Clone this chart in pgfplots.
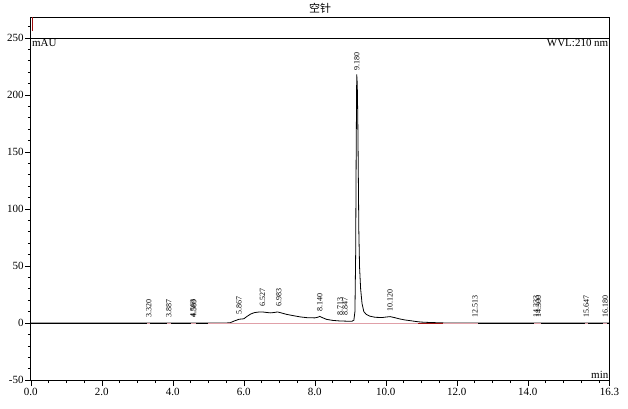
\documentclass[border=0pt]{standalone}
\usepackage{fontspec}
\setmainfont{Liberation Serif}
\newfontfamily\cjk{Noto Sans CJK SC}
\usepackage{pgfplots}
\pgfplotsset{compat=1.18}
\definecolor{blpink}{HTML}{E0A0A8}
\definecolor{bldark}{HTML}{A01010}

\pgfplotstableread{
t v
0.00 0
5.50 0
5.62 0.3
5.75 2.0
5.87 3.3
6.00 3.7
6.10 6.0
6.20 8.0
6.31 9.2
6.45 9.7
6.55 9.6
6.65 9.2
6.75 8.9
6.85 9.2
6.95 9.7
7.05 8.9
7.20 7.6
7.40 6.4
7.60 5.3
7.80 4.6
8.00 4.5
8.08 5.0
8.14 5.8
8.22 4.6
8.33 3.2
8.50 2.3
8.70 1.8
8.90 1.6
9.05 1.6
9.10 2.5
9.13 10
9.15 60
9.165 150
9.18 218
9.195 210
9.21 180
9.225 130
9.24 80
9.26 49
9.29 30
9.33 17
9.38 10
9.45 7.5
9.55 6.0
9.70 5.0
9.90 4.8
10.00 5.2
10.12 5.6
10.25 4.7
10.40 3.5
10.55 2.6
10.70 2.0
10.85 1.3
11.00 0.8
11.20 0.5
11.50 0.2
11.70 0
16.30 0
}\chrom

\pgfplotstableread{
t v label
3.320 0 3.320
3.887 0 3.887
4.563 0 4.563
4.589 0 4.589
5.867 2.5 5.867
6.527 9.6 6.527
6.983 9.5 6.983
8.140 5.8 8.140
8.713 1.8 8.713
8.847 1.8 8.847
9.180 217 9.180
10.120 5.6 10.120
12.513 0 12.513
14.233 0 14.233
14.300 0 14.300
15.647 0 15.647
16.180 0 16.180
}\peaks

\begin{document}
\begin{tikzpicture}[x=1pt,y=1pt]
\begin{axis}[
  at={(30.8pt,28pt)}, anchor=south west,
  scale only axis, width=578.7pt, height=363pt,
  xmin=0, xmax=16.3, ymin=-50, ymax=268.4,
  clip=false,
  axis line style={black, line width=0.8pt},
  xtick={0,2,4,6,8,10,12,14,16.3},
  xticklabels={0.0,2.0,4.0,6.0,8.0,10.0,12.0,14.0,16.3},
  minor xtick={0.5,1,...,16},
  ytick={-50,0,50,100,150,200,250},
  minor ytick={-40,-30,...,260},
  xtick pos=bottom, ytick pos=left,
  tick align=outside,
  major tick length=6pt, minor tick length=3pt,
  tick style={black, line width=0.6pt},
  tick label style={font=\fontsize{11}{13}\selectfont},
  xticklabel style={inner sep=1pt, yshift=-1pt},
  yticklabel style={inner sep=1pt},
  /pgf/number format/assume math mode=true,
  title={\cjk 空针},
  title style={at={(0.5,1)}, anchor=south, inner sep=1pt, yshift=-4pt,
    font=\fontsize{11}{13}\selectfont},
]
% chromatogram trace
\addplot[black, line width=0.8pt] table[x=t, y=v] {\chrom};
% 250 line
\addplot[black, line width=0.8pt] coordinates {(0,250) (16.3,250)};
% zero line
\addplot[black, line width=0.8pt] coordinates {(0,0) (5.0,0)};
\addplot[black, line width=0.8pt] coordinates {(12.6,0) (16.3,0)};
% integration baselines
\addplot[blpink, line width=0.9pt] coordinates {(5.0,0) (12.6,0)};
\addplot[bldark, line width=0.9pt] coordinates {(10.9,0) (11.6,0)};
\addplot[blpink, line width=0.9pt] coordinates {(3.27,0) (3.37,0)};
\addplot[blpink, line width=0.9pt] coordinates {(3.84,0) (3.94,0)};
\addplot[blpink, line width=0.9pt] coordinates {(4.50,0) (4.65,0)};
\addplot[blpink, line width=0.9pt] coordinates {(14.18,0) (14.36,0)};
\addplot[blpink, line width=0.9pt] coordinates {(15.60,0) (15.70,0)};
\addplot[blpink, line width=0.9pt] coordinates {(16.13,0) (16.23,0)};
\addplot[bldark, line width=1.3pt] coordinates {(0.04,256) (0.04,268)};
% peak labels
\addplot[draw=none, mark=none,
  nodes near coords, point meta=explicit symbolic,
  nodes near coords style={rotate=90, anchor=west, inner xsep=5pt,
    inner ysep=0pt, font=\fontsize{8}{9}\selectfont}]
  table[x=t, y=v, meta=label] {\peaks};
\node[anchor=north west, inner sep=1pt, font=\fontsize{11}{13}\selectfont]
  at (axis cs:0,250) {mAU};
\node[anchor=north east, inner sep=1pt, font=\fontsize{11}{13}\selectfont]
  at (axis cs:16.3,250) {WVL:210 nm};
\node[anchor=south east, inner sep=1pt, font=\fontsize{11}{13}\selectfont]
  at (axis cs:16.3,-50) {min};
\end{axis}
\pgfresetboundingbox
\path[use as bounding box] (0,0) rectangle (628pt,408pt);
\end{tikzpicture}
\end{document}
